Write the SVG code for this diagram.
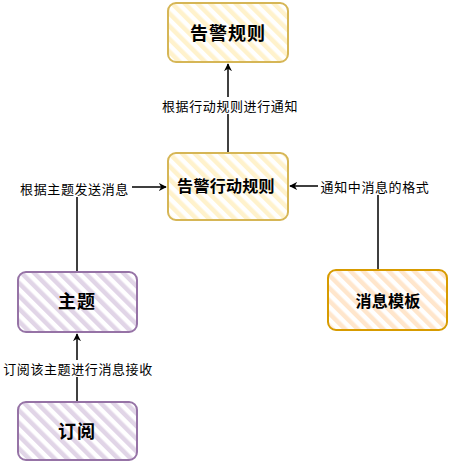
<svg xmlns="http://www.w3.org/2000/svg" width="449" height="462" viewBox="0 0 449 462">
<style>
.node text{font-family:"Noto Sans CJK SC","Noto Sans",sans-serif;font-weight:bold;fill:#000;text-anchor:middle;dominant-baseline:central}
.big{font-size:18px;letter-spacing:1px}
.mid{font-size:16px;letter-spacing:0.3px}
.lbl{font-family:"Noto Sans CJK SC","Noto Sans",sans-serif;font-size:13px;letter-spacing:0.6px;fill:#000;text-anchor:middle;dominant-baseline:central}
.lblbg{fill:#fff}
.edge{fill:none;stroke:#000;stroke-width:1.5}
.box{stroke-width:2}
.y{stroke:#d6b656}
.p{stroke:#9673a6}
.o{stroke:#d79b00}
</style>
<defs>
<pattern id="hy" width="9" height="9" patternUnits="userSpaceOnUse" patternTransform="rotate(-45)"><rect width="9" height="9" fill="#fff"/><rect width="4.5" height="9" fill="#fff2cc"/></pattern>
<pattern id="hp" width="9" height="9" patternUnits="userSpaceOnUse" patternTransform="rotate(-45)"><rect width="9" height="9" fill="#fff"/><rect width="4.5" height="9" fill="#e1d5e7"/></pattern>
<pattern id="ho" width="9" height="9" patternUnits="userSpaceOnUse" patternTransform="rotate(-45)"><rect width="9" height="9" fill="#fff"/><rect width="4.5" height="9" fill="#ffe6cc"/></pattern>
<marker id="arr" viewBox="0 0 10 10" refX="9" refY="5" markerWidth="8" markerHeight="8" orient="auto" markerUnits="userSpaceOnUse"><path d="M0,0 L10,5 L0,10 L3,5 Z" fill="#000"/></marker>
</defs>
<rect width="449" height="462" fill="#fff"/>
<g id="edges">
<path class="edge" d="M228,153 L228,64" marker-end="url(#arr)"/>
<path class="edge" d="M77,272 L77,187 L166,187" marker-end="url(#arr)"/>
<path class="edge" d="M378,270 L378,186 L290,186" marker-end="url(#arr)"/>
<path class="edge" d="M77,402 L77,334" marker-end="url(#arr)"/>
<rect class="lblbg" x="161" y="97" width="137" height="17"/>
<text class="lbl" x="230" y="105">根据行动规则进行通知</text>
<rect class="lblbg" x="16" y="180" width="116" height="17"/>
<text class="lbl" x="74.5" y="188">根据主题发送消息</text>
<rect class="lblbg" x="318" y="178" width="113" height="17"/>
<text class="lbl" x="375" y="186">通知中消息的格式</text>
<rect class="lblbg" x="1" y="360" width="155" height="17"/>
<text class="lbl" x="78" y="368">订阅该主题进行消息接收</text>
</g>
<g id="n1" class="node"><rect class="box y" x="168" y="3" width="120" height="59" rx="8" fill="url(#hy)"/><text class="big" x="228" y="32">告警规则</text></g>
<g id="n2" class="node"><rect class="box y" x="168" y="153" width="120" height="67" rx="8" fill="url(#hy)"/><text class="mid" x="226" y="185">告警行动规则</text></g>
<g id="n3" class="node"><rect class="box p" x="18" y="272" width="119" height="60" rx="8" fill="url(#hp)"/><text class="big" x="77" y="300">主题</text></g>
<g id="n4" class="node"><rect class="box p" x="18" y="402" width="119" height="58" rx="8" fill="url(#hp)"/><text class="big" x="77" y="430">订阅</text></g>
<g id="n5" class="node"><rect class="box o" x="328" y="270" width="119" height="60" rx="8" fill="url(#ho)"/><text class="mid" x="388" y="300">消息模板</text></g>
</svg>
